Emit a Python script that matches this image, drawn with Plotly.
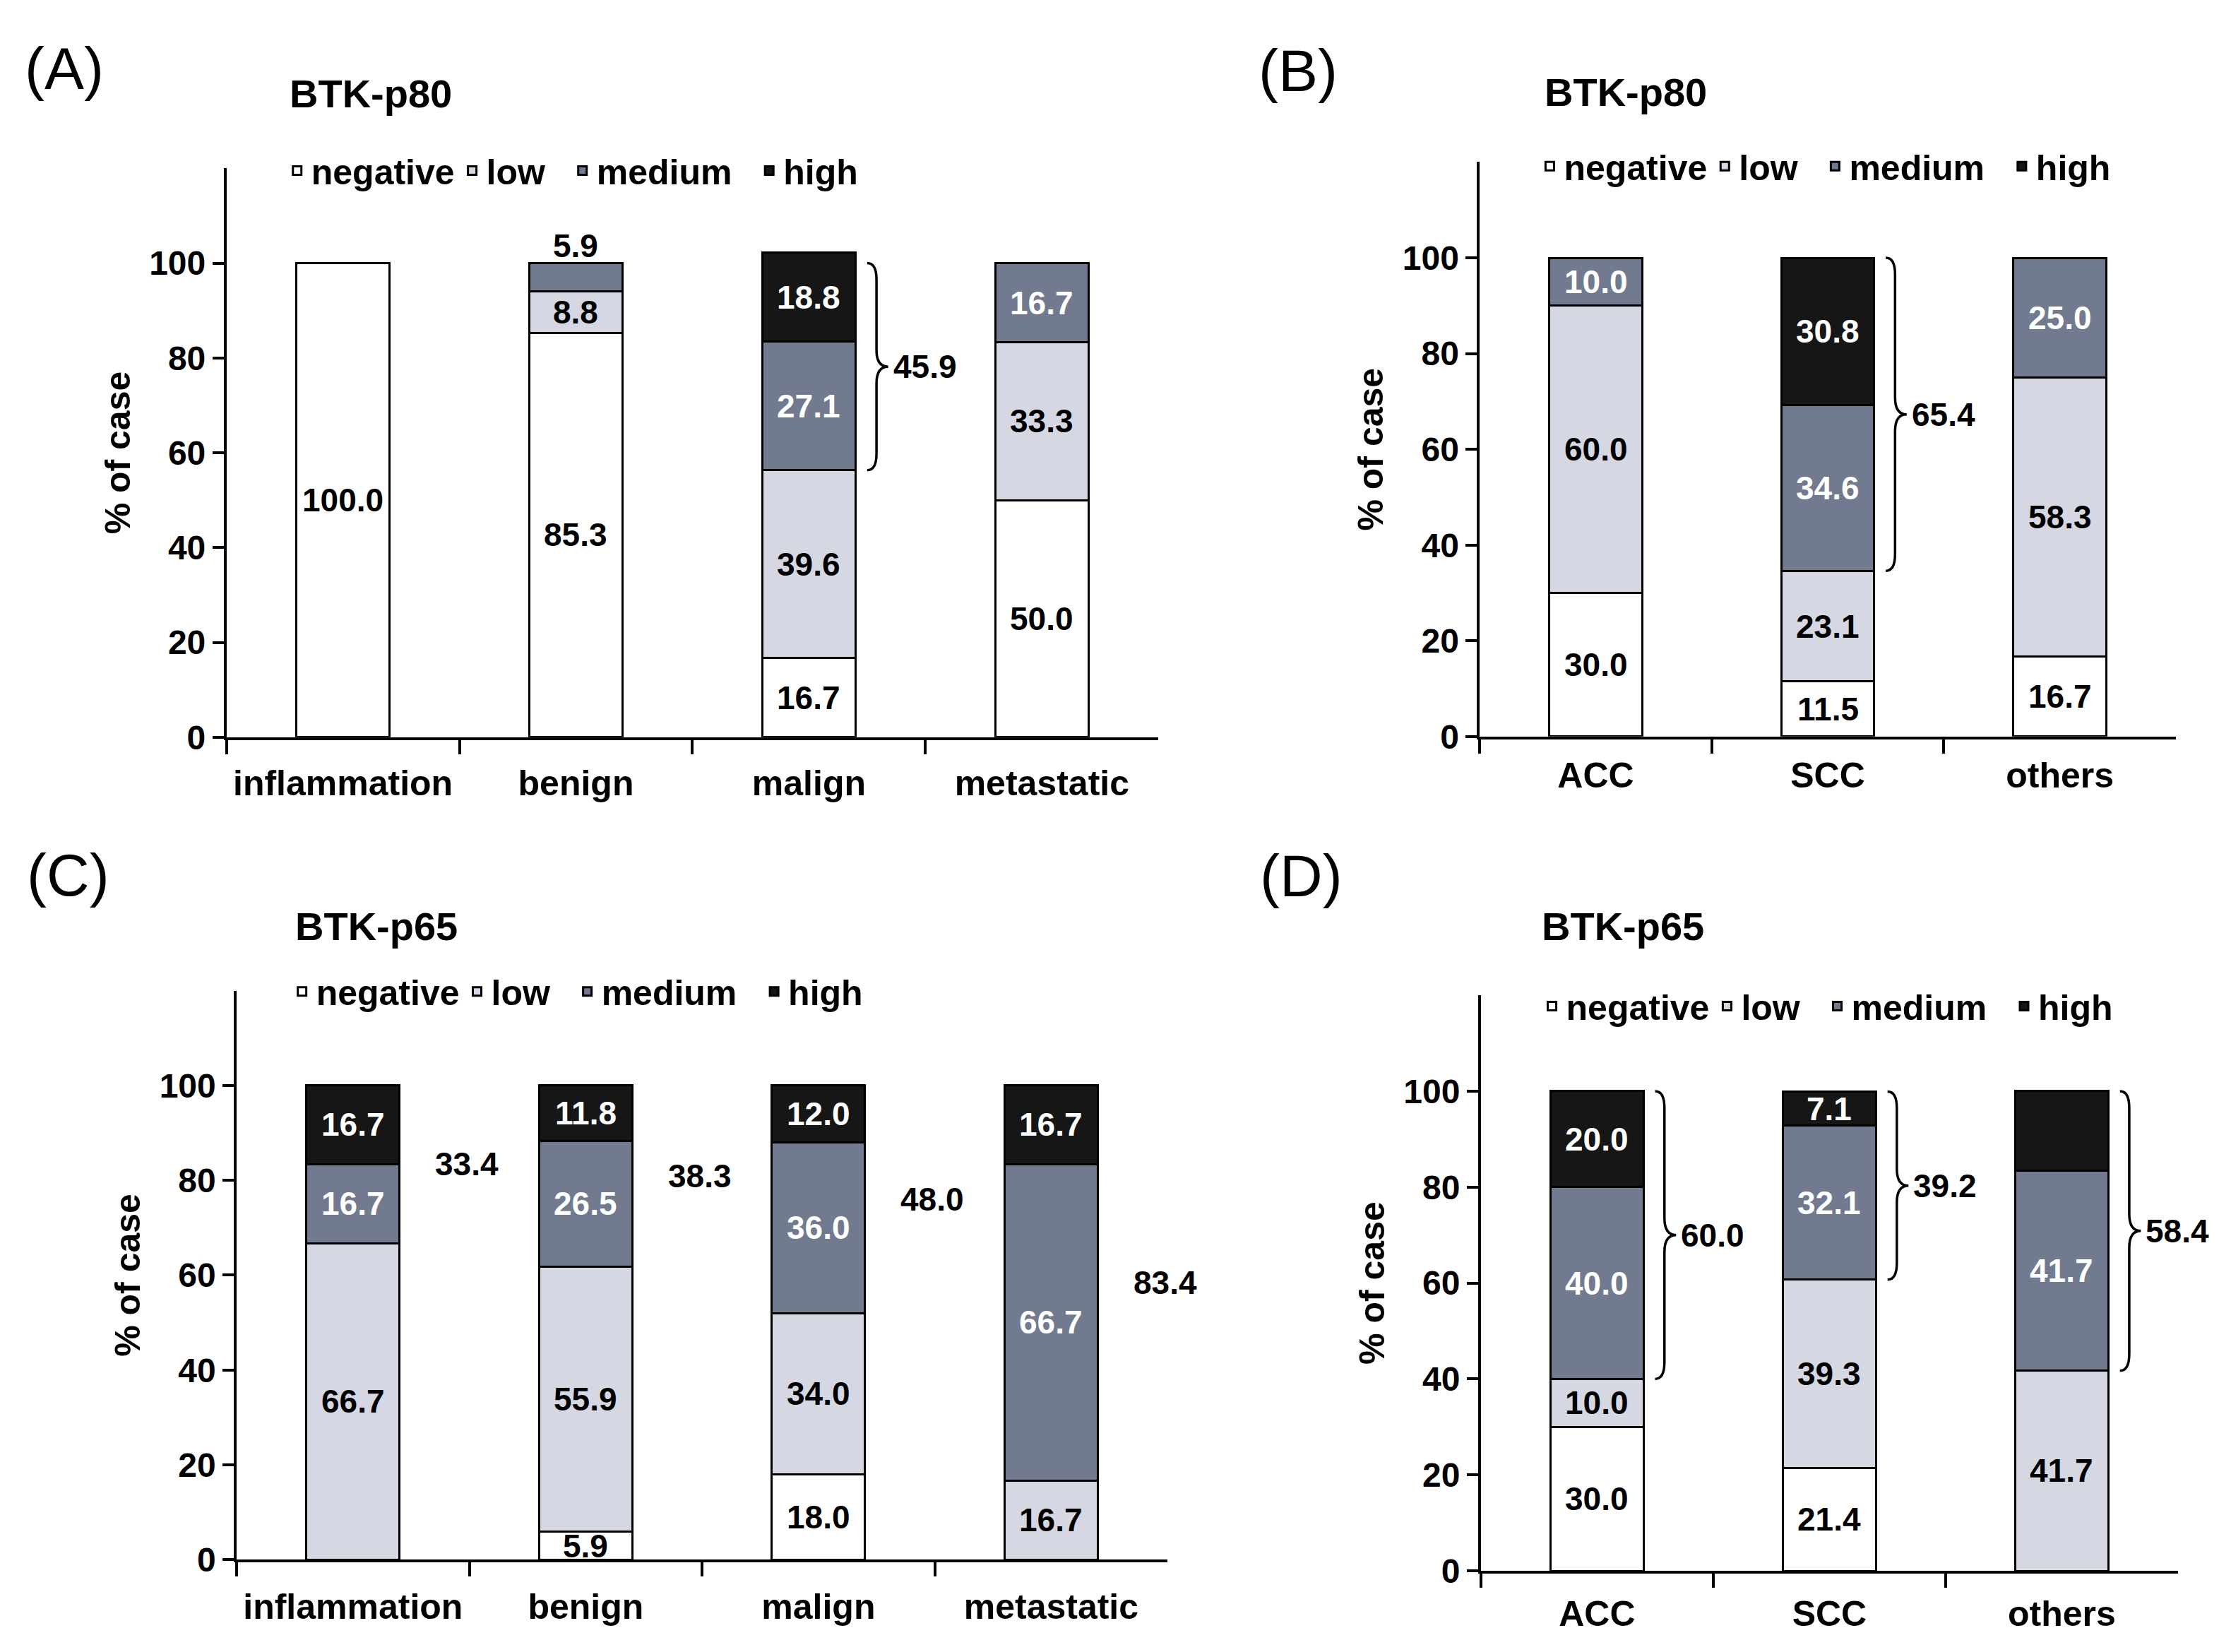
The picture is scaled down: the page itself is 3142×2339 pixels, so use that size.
import plotly.graph_objects as go

FONT = "Liberation Sans, Arial, sans-serif"

levels = ["negative", "low", "medium", "high"]
# legend names carry a little padding so the entries spread like the original
legend_names = ["negative", "low\u00a0\u00a0", "medium\u00a0\u00a0", "high"]
level_colors = ["#ffffff", "#d5d7e3", "#717a8e", "#161616"]
label_colors = ["black", "black", "white", "white"]

tissue_cats = ["inflammation", "benign", "malign", "metastatic"]
tumor_cats = ["ACC", "SCC", "others"]

# (A) BTK-p80, by tissue
a_negative = [100.0, 85.3, 16.7, 50.0]
a_low = [0, 8.8, 39.6, 33.3]
a_medium = [0, 5.9, 27.1, 16.7]
a_high = [0, 0, 18.8, 0]

# (B) BTK-p80, by tumour type
b_negative = [30.0, 11.5, 16.7]
b_low = [60.0, 23.1, 58.3]
b_medium = [10.0, 34.6, 25.0]
b_high = [0, 30.8, 0]

# (C) BTK-p65, by tissue
c_negative = [0, 5.9, 18.0, 0]
c_low = [66.7, 55.9, 34.0, 16.7]
c_medium = [16.7, 26.5, 36.0, 66.7]
c_high = [16.7, 11.8, 12.0, 16.7]

# (D) BTK-p65, by tumour type
d_negative = [30.0, 21.4, 0]
d_low = [10.0, 39.3, 41.7]
d_medium = [40.0, 32.1, 41.7]
d_high = [20.0, 7.1, 16.7]
d_high_labelled = [True, True, False]

# bars that get a "}" bracket (medium + high) with the summed value
a_brackets = ["malign"]
b_brackets = ["SCC"]
c_sums = ["inflammation", "benign", "malign", "metastatic"]  # sums only, no brace
d_brackets = ["ACC", "SCC", "others"]

panels = [
    dict(letter="(A)", title="BTK-p80", cats=tissue_cats,
         series=[a_negative, a_low, a_medium, a_high], shown=None,
         brackets=a_brackets, sums=[],
         xdom=[0.0995, 0.5195], ydom=[0.552, 0.9004], xstand=18,
         letter_pos=(0.008, 0.9615), title_pos=(0.1273, 0.9462), legend_pos=(0.125, 0.899)),
    dict(letter="(B)", title="BTK-p80", cats=tumor_cats,
         series=[b_negative, b_low, b_medium, b_high], shown=None,
         brackets=b_brackets, sums=[],
         xdom=[0.6643, 0.978], ydom=[0.5524, 0.9042], xstand=8,
         letter_pos=(0.564, 0.960), title_pos=(0.693, 0.947), legend_pos=(0.6895, 0.9017)),
    dict(letter="(C)", title="BTK-p65", cats=tissue_cats,
         series=[c_negative, c_low, c_medium, c_high], shown=None,
         brackets=[], sums=c_sums,
         xdom=[0.1041, 0.5236], ydom=[0.0483, 0.3968], xstand=20,
         letter_pos=(0.009, 0.4677), title_pos=(0.130, 0.4361), legend_pos=(0.1272, 0.3963)),
    dict(letter="(D)", title="BTK-p65", cats=tumor_cats,
         series=[d_negative, d_low, d_medium, d_high], shown=[None, None, None, d_high_labelled],
         brackets=d_brackets, sums=[],
         xdom=[0.6648, 0.979], ydom=[0.0415, 0.394], xstand=14,
         letter_pos=(0.5645, 0.4673), title_pos=(0.6916, 0.4361), legend_pos=(0.6905, 0.3873)),
]


def brace_path(i, y0, y1):
    x0, x1, x2 = i + 0.25, i + 0.29, i + 0.34
    d = 3.5
    ym = (y0 + y1) / 2
    return (f"M{x0},{y1} Q{x1},{y1} {x1},{y1 - d} L{x1},{ym + d} "
            f"Q{x1},{ym} {x2},{ym} Q{x1},{ym} {x1},{ym - d} "
            f"L{x1},{y0 + d} Q{x1},{y0} {x0},{y0}")


fig = go.Figure()
annotations = []
shapes = []
layout_axes = {}

for k, p in enumerate(panels):
    n = k + 1
    xname = "x" if n == 1 else f"x{n}"
    yname = "y" if n == 1 else f"y{n}"
    legname = "legend" if n == 1 else f"legend{n}"

    for lvl, vals, col in zip(legend_names, p["series"], level_colors):
        fig.add_trace(go.Bar(
            x=p["cats"], y=vals, name=lvl,
            marker=dict(color=col, line=dict(color="black", width=3)),
            xaxis=xname, yaxis=yname, legend=legname,
        ))

    # segment labels
    cats = p["cats"]
    for i, cat in enumerate(cats):
        base = 0
        stack = [s[i] for s in p["series"]]
        top_idx = max(j for j, v in enumerate(stack) if v > 0)
        for j, v in enumerate(stack):
            if v > 0:
                shown = p["shown"][j][i] if p["shown"] and p["shown"][j] else True
                if shown:
                    if j == top_idx and v < 7:
                        ypos = base + v + 3.6
                        color = "black"
                    else:
                        ypos = base + v / 2
                        color = label_colors[j]
                    annotations.append(dict(
                        x=i, y=ypos, xref=xname, yref=yname, text=f"{v:.1f}",
                        showarrow=False, font=dict(size=46, color=color, family=FONT, weight="bold"),
                        xanchor="center", yanchor="middle"))
            base += v

        low_top = stack[0] + stack[1]
        total = sum(stack)
        upper = stack[2] + stack[3]
        if cat in p["brackets"]:
            shapes.append(dict(type="path", path=brace_path(i, low_top, min(total, 100)),
                               xref=xname, yref=yname, line=dict(color="black", width=3.5)))
            annotations.append(dict(
                x=i + 0.355, y=(low_top + min(total, 100)) / 2, xref=xname, yref=yname,
                text=f"{upper:.1f}", showarrow=False, xanchor="left", yanchor="middle",
                font=dict(size=46, color="black", family=FONT, weight="bold")))
        if cat in p["sums"]:
            annotations.append(dict(
                x=i + 0.49, y=(low_top + total) / 2, xref=xname, yref=yname,
                text=f"{upper:.1f}", showarrow=False, xanchor="center", yanchor="middle",
                font=dict(size=46, color="black", family=FONT, weight="bold")))

    # panel letter and title
    annotations.append(dict(
        x=p["letter_pos"][0], y=p["letter_pos"][1], xref="paper", yref="paper",
        text=p["letter"], showarrow=False, xanchor="left", yanchor="middle",
        font=dict(size=84, color="black", family=FONT)))
    annotations.append(dict(
        x=p["title_pos"][0], y=p["title_pos"][1], xref="paper", yref="paper",
        text=p["title"], showarrow=False, xanchor="left", yanchor="middle",
        font=dict(size=56, color="black", family=FONT, weight="bold")))

    layout_axes["xaxis" if n == 1 else f"xaxis{n}"] = dict(
        domain=p["xdom"], anchor=yname, type="category",
        range=[-0.5, len(cats) - 0.5],
        showline=True, linecolor="black", linewidth=3.5,
        ticks="outside", tickson="boundaries", ticklen=20, tickwidth=3.5, tickcolor="black",
        ticklabelstandoff=p["xstand"],
        tickfont=dict(size=50, color="black", family=FONT, weight="bold"),
        showgrid=False, zeroline=False, fixedrange=True,
    )
    layout_axes["yaxis" if n == 1 else f"yaxis{n}"] = dict(
        domain=p["ydom"], anchor=xname, range=[0, 120],
        tickvals=[0, 20, 40, 60, 80, 100],
        showline=True, linecolor="black", linewidth=3.5,
        ticks="outside", ticklen=16, tickwidth=3.5, tickcolor="black",
        tickfont=dict(size=48, color="black", family=FONT, weight="bold"),
        title=dict(text="% of case", standoff=12,
                   font=dict(size=50, color="black", family=FONT, weight="bold")),
        showgrid=False, zeroline=False, fixedrange=True,
    )
    layout_axes[legname] = dict(
        orientation="h", x=p["legend_pos"][0], y=p["legend_pos"][1],
        xanchor="left", yanchor="middle", traceorder="normal",
        bgcolor="rgba(0,0,0,0)", itemclick=False, itemdoubleclick=False,
        font=dict(size=50, color="black", family=FONT, weight="bold"),
    )

fig.update_layout(
    width=3142, height=2339,
    margin=dict(l=0, r=0, t=0, b=0),
    paper_bgcolor="white", plot_bgcolor="white",
    barmode="stack", bargap=0.6,
    font=dict(family=FONT, color="black"),
    annotations=annotations, shapes=shapes,
    showlegend=True,
    **layout_axes,
)

fig.write_html("out.html")
